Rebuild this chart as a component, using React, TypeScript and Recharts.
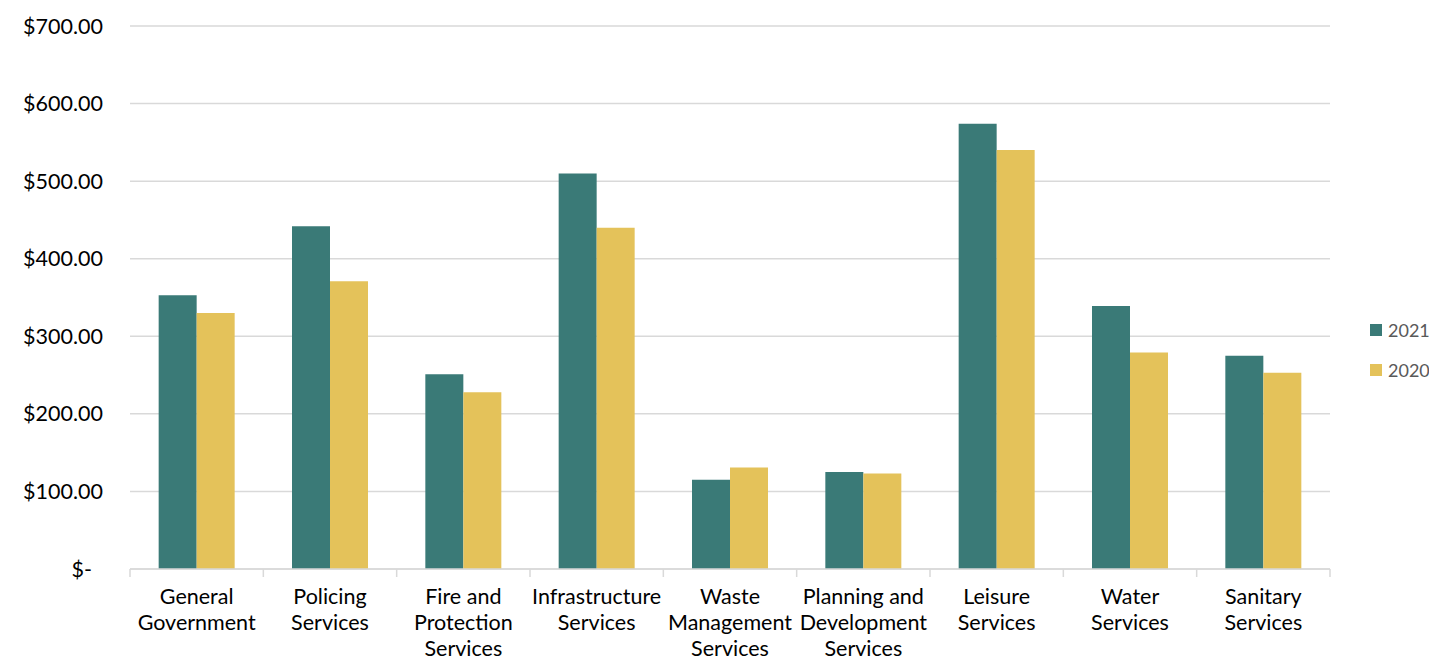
import React from "react";
import { BarChart, Bar, XAxis, YAxis, CartesianGrid, Legend } from "recharts";

const categories = [
  "General Government",
  "Policing Services",
  "Fire and Protection Services",
  "Infrastructure Services",
  "Waste Management Services",
  "Planning and Development Services",
  "Leisure Services",
  "Water Services",
  "Sanitary Services",
];

const labelLines = [
  ["General", "Government"],
  ["Policing", "Services"],
  ["Fire and", "Protection", "Services"],
  ["Infrastructure", "Services"],
  ["Waste", "Management", "Services"],
  ["Planning and", "Development", "Services"],
  ["Leisure", "Services"],
  ["Water", "Services"],
  ["Sanitary", "Services"],
];

const values2021 = [353, 442, 251, 510, 115, 125, 574, 339, 275];
const values2020 = [330, 371, 228, 440, 131, 123, 540, 279, 253];

const yTicks = [0, 100, 200, 300, 400, 500, 600, 700];

const data = categories.map((c, i) => ({
  name: c,
  y2021: values2021[i],
  y2020: values2020[i],
}));

const TEAL = "#3A7A77";
const GOLD = "#E4C25A";
const GRID = "#D9D9D9";
const FONT = "Lato, 'Open Sans', sans-serif";
const FS = 21.5;

const XTick = (props: any) => {
  const { x, y, payload, width, visibleTicksCount, index } = props;
  const i = categories.indexOf(payload.value);
  const lines = i >= 0 ? labelLines[i] : [String(payload.value)];
  const band = width / (visibleTicksCount || categories.length);
  const isLast = index === (visibleTicksCount || categories.length) - 1;
  return (
    <g>
      <line x1={x - band / 2} x2={x - band / 2} y1={y} y2={y + 8} stroke={GRID} strokeWidth={1.5} />
      {isLast && (
        <line x1={x + band / 2} x2={x + band / 2} y1={y} y2={y + 8} stroke={GRID} strokeWidth={1.5} />
      )}
      {lines.map((l, k) => (
        <text
          key={k}
          x={x}
          y={y + 35 + k * 26}
          textAnchor="middle"
          fontFamily={FONT}
          fontSize={FS}
          fill="#000"
        >
          {l}
        </text>
      ))}
    </g>
  );
};

const YTick = (props: any) => {
  const { x, y, payload } = props;
  const v = payload.value as number;
  const label = v === 0 ? "$-" : "$" + v.toFixed(2);
  return (
    <text
      x={v === 0 ? x - 11 : x}
      y={y}
      dy={7.5}
      textAnchor="end"
      fontFamily={FONT}
      fontSize={FS}
      fill="#000"
    >
      {label}
    </text>
  );
};

const LegendContent = () => {
  const items = [
    { label: "2021", color: TEAL },
    { label: "2020", color: GOLD },
  ];
  return (
    <div style={{ fontFamily: FONT }}>
      {items.map((it) => (
        <div
          key={it.label}
          style={{ display: "flex", alignItems: "center", height: 40 }}
        >
          <span
            style={{
              width: 12,
              height: 12,
              background: it.color,
              display: "inline-block",
              marginRight: 6,
            }}
          />
          <span style={{ fontSize: 18, color: "#595959" }}>{it.label}</span>
        </div>
      ))}
    </div>
  );
};

export default function App() {
  return (
    <div style={{ width: 1421, height: 648 }}>
      <BarChart
        width={1421}
        height={648}
        data={data}
        margin={{ top: 18, right: 29, bottom: 0, left: 0 }}
        barCategoryGap="21.5%"
        barGap={0}
      >
        <CartesianGrid
          horizontal={true}
          vertical={false}
          stroke={GRID}
          strokeWidth={1.5}
        />
        <XAxis
          dataKey="name"
          interval={0}
          tick={<XTick />}
          tickLine={false}
          tickSize={0}
          tickMargin={0}
          axisLine={{ stroke: GRID, strokeWidth: 1.5 }}
          height={87}
        />
        <YAxis
          domain={[0, 700]}
          ticks={yTicks}
          width={122}
          axisLine={false}
          tickLine={false}
          tickSize={0}
          tickMargin={27}
          tick={<YTick />}
        />
        <Legend
          layout="vertical"
          verticalAlign="middle"
          align="right"
          content={<LegendContent />}
          wrapperStyle={{ left: 1362, top: 302, width: 70, right: "auto", bottom: "auto" }}
        />
        <Bar dataKey="y2021" name="2021" fill={TEAL} isAnimationActive={false} />
        <Bar dataKey="y2020" name="2020" fill={GOLD} isAnimationActive={false} />
      </BarChart>
    </div>
  );
}
